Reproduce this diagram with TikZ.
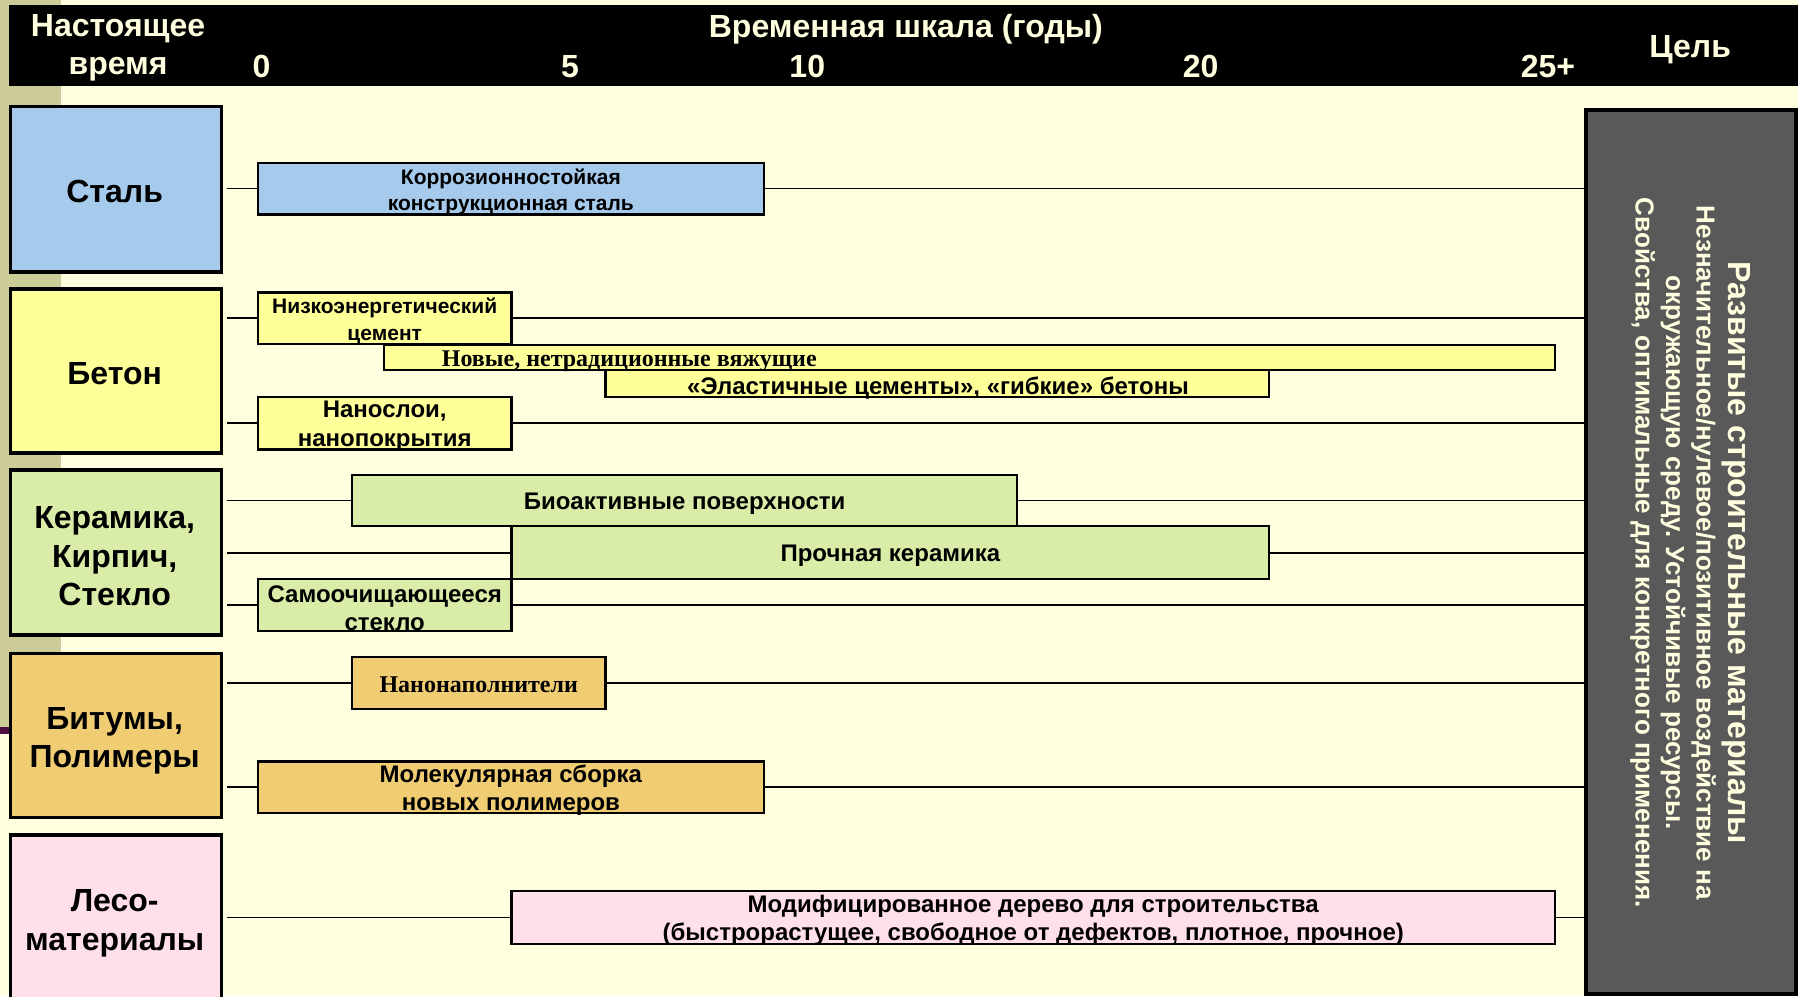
\documentclass[tikz,border=0pt]{standalone}
\usepackage{fontspec}
\setmainfont{Liberation Sans}
\newfontfamily\serifbf{Liberation Serif}
\usetikzlibrary{fit}
\pgfdeclarelayer{bg}
\pgfdeclarelayer{lines}
\pgfsetlayers{bg,lines,main}
\definecolor{cream}{RGB}{255,255,224}
\definecolor{olive}{RGB}{204,204,153}
\definecolor{plum}{RGB}{77,16,64}
\definecolor{steelc}{RGB}{166,202,236}
\definecolor{concc}{RGB}{255,255,153}
\definecolor{ceramc}{RGB}{217,237,168}
\definecolor{bitc}{RGB}{240,205,115}
\definecolor{woodc}{RGB}{255,224,232}
\definecolor{goalc}{RGB}{89,89,89}
\tikzset{
  mat/.style={draw=black, line width=1.8pt, inner sep=0pt},
  mattext/.style={font=\bfseries\fontsize{16}{19.2}\selectfont, align=center, inner sep=0pt, text=black, yshift=-1.2pt},
  item/.style={draw=black, line width=1.1pt, inner sep=0pt},
  itext/.style={font=\bfseries\fontsize{12}{14.3}\selectfont, align=center, inner sep=0pt, text=black, yshift=-1.6pt},
  stext/.style={font=\bfseries\fontsize{10.5}{12.8}\selectfont, align=center, inner sep=0pt, text=black, yshift=-1.6pt},
  sertext/.style={font=\serifbf\bfseries\fontsize{12}{14}\selectfont, inner sep=0pt, text=black},
  conn/.style={line width=0.8pt, draw=black},
  hdr/.style={text=cream, font=\bfseries\fontsize{16}{18.9}\selectfont, align=center, inner sep=0pt, yshift=-1.8pt},
}
\begin{document}
\begin{tikzpicture}[x=0.5733pt, y=-0.5733pt]
\useasboundingbox (0,0) rectangle (1568,869);
\begin{pgfonlayer}{bg}
  \fill[cream] (0,0) rectangle (1568,869);
  \fill[olive] (0,0) rectangle (53,636);
  \fill[plum] (0,634) rectangle (8,640);
\end{pgfonlayer}

% header
\node[fill=black, inner sep=0pt, fit={(8,4) (1568,75)}] (header) {};
\node[hdr] (now) at (103,38.5) {Настоящее\\время};
\node[hdr] (scale) at (790,22) {Временная шкала (годы)};
\node[hdr] (t0) at (228,55) {0};
\node[hdr] (t5) at (497,55) {5};
\node[hdr] (t10) at (704,55) {10};
\node[hdr] (t20) at (1047,55) {20};
\node[hdr] (t25) at (1350,55) {25+};
\node[hdr] (aim) at (1474,40) {Цель};

% material boxes
\node[mat, fill=steelc, fit={(9,93) (193,237)}] (steel) {};
\node[mattext] (steelt) at (100,165) {Сталь};
\node[mat, fill=concc, fit={(9,252) (193,395)}] (conc) {};
\node[mattext] (conct) at (100,324) {Бетон};
\node[mat, fill=ceramc, fit={(9,410) (193,554)}] (ceram) {};
\node[mattext] (ceramt) at (100,483) {Керамика,\\Кирпич,\\Стекло};
\node[mat, fill=bitc, fit={(9,570) (193,713)}] (bit) {};
\node[mattext] (bitt) at (100,644) {Битумы,\\Полимеры};
\node[mat, fill=woodc, fit={(9,728) (193,900)}] (wood) {};
\node[mattext] (woodt) at (100,803) {Лесо-\\материалы};

% goal box
\node[mat, fill=goalc, fit={(1383,96) (1566,867)}] (goal) {};
\node[rotate=-90, align=center, text=cream, inner sep=0pt,
      font=\bfseries\fontsize{13}{15.3}\selectfont] (goalt) at (1474,482)
  {{\fontsize{16}{18}\selectfont Развитые строительные материалы}\\[0.5pt]
   Незначительное/нулевое/позитивное воздействие на\\
   окружающую среду. Устойчивые ресурсы.\\
   Свойства, оптимальные для конкретного применения.};

% item boxes
\node[item, fill=steelc, fit={(225,142) (666,187)}] (i1) {};
\node[stext] at (i1.center) {Коррозионностойкая\\конструкционная сталь};

\node[item, fill=concc, fit={(225,255) (446,300)}] (i2) {};
\node[stext, font=\bfseries\fontsize{10.5}{13.2}\selectfont] at (i2.center) {Низкоэнергетический\\цемент};

\node[item, fill=concc, fit={(335,301) (1356,323)}] (i3) {};
\node[sertext, anchor=base west] at (385,320) {Новые, нетрадиционные вяжущие};

\node[item, fill=concc, fit={(528,323) (1107,346)}] (i4) {};
\node[itext, anchor=base, yshift=1.6pt] at (818,344) {«Эластичные цементы», «гибкие» бетоны};

\node[item, fill=concc, fit={(225,346) (446,392)}] (i5) {};
\node[itext] at (i5.center) {Нанослои,\\нанопокрытия};

\node[item, fill=ceramc, fit={(307,414) (887,459)}] (i6) {};
\node[itext] at (i6.center) {Биоактивные поверхности};

\node[item, fill=ceramc, fit={(446,459) (1107,505)}] (i7) {};
\node[itext] at (i7.center) {Прочная керамика};

\node[item, fill=ceramc, fit={(225,505) (446,550)}] (i8) {};
\node[itext] at (i8.center) {Самоочищающееся\\стекло};

\node[item, fill=bitc, fit={(307,573) (528,618)}] (i9) {};
\node[sertext, yshift=-0.8pt] at (i9.center) {Нанонаполнители};

\node[item, fill=bitc, fit={(225,664) (666,709)}] (i10) {};
\node[itext, font=\bfseries\fontsize{12}{13.8}\selectfont] at (i10.center) {Молекулярная сборка\\новых полимеров};

\node[item, fill=woodc, fit={(446,777) (1356,823)}] (i11) {};
\node[itext, font=\bfseries\fontsize{12}{13.8}\selectfont] at (i11.center) {Модифицированное дерево для строительства\\(быстрорастущее, свободное от дефектов, плотное, прочное)};

% connectors
\begin{pgfonlayer}{lines}
  \draw[conn] ([xshift=2pt]steel.east |- i1.west) -- (goal.west |- i1.west);
  \draw[conn] ([xshift=2pt]conc.east |- i2.west) -- (goal.west |- i2.west);
  \draw[conn] ([xshift=2pt]conc.east |- i5.west) -- (goal.west |- i5.west);
  \draw[conn] ([xshift=2pt]ceram.east |- i6.west) -- (goal.west |- i6.west);
  \draw[conn] ([xshift=2pt]ceram.east |- i7.west) -- (goal.west |- i7.west);
  \draw[conn] ([xshift=2pt]ceram.east |- i8.west) -- (goal.west |- i8.west);
  \draw[conn] ([xshift=2pt]bit.east |- i9.west) -- (goal.west |- i9.west);
  \draw[conn] ([xshift=2pt]bit.east |- i10.west) -- (goal.west |- i10.west);
  \draw[conn] ([xshift=2pt]wood.east |- i11.west) -- (goal.west |- i11.west);
\end{pgfonlayer}
\end{tikzpicture}
\end{document}
